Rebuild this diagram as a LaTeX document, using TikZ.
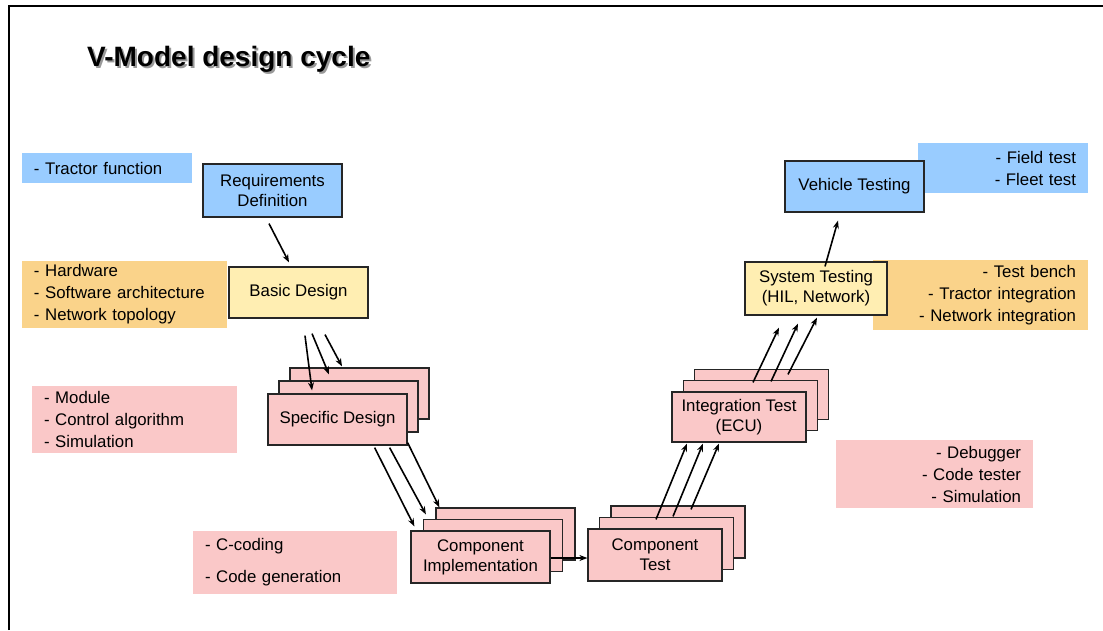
\documentclass[tikz,border=0pt]{standalone}
\usepackage{fontspec}
\setmainfont{Liberation Sans}
\usepackage{tikz}
\usetikzlibrary{arrows.meta}

\definecolor{sblue}{RGB}{153,204,255}
\definecolor{syellow}{RGB}{255,238,178}
\definecolor{spink}{RGB}{250,200,200}
\definecolor{norange}{RGB}{250,211,138}

\tikzset{
  stage/.style={draw=black!85, line width=1.2pt, minimum width=139pt, minimum height=51pt,
    align=center, inner sep=2pt, font=\fontsize{16.8}{20}\selectfont},
  note/.style={inner xsep=12pt, inner ysep=2pt, font=\fontsize{16.8}{22}\selectfont},
  flow/.style={-{Stealth[length=8pt,width=6pt]}, line width=1.6pt},
}

\begin{document}
\begin{tikzpicture}[x=1pt,y=-1pt]
    \useasboundingbox (0,0) rectangle (1103,630);
    \draw[line width=2pt] (9,630) -- (9,6) -- (1103,6);

    % title
    \node[font=\bfseries\fontsize{28}{32}\selectfont, text=black!40, anchor=base west, inner sep=0pt] (title-shadow) at (89,68) {V-Model design cycle};
    \node[font=\bfseries\fontsize{28}{32}\selectfont, anchor=base west, inner sep=0pt] (title) at (87,66) {V-Model design cycle};

    % notes
    \node[note, fill=sblue, text width=146pt, minimum height=30pt, align=left] (tractor) at (107,168) {- Tractor function};
    \node[note, fill=norange, text width=181pt, minimum height=67pt, align=left] (hw) at (124.5,294.5) {- Hardware\\- Software architecture\\- Network topology};
    \node[note, fill=spink, text width=181pt, minimum height=67pt, align=left] (module) at (134.5,419.5) {- Module\\- Control algorithm\\- Simulation};
    \node[note, fill=spink, text width=180pt, minimum height=63pt, align=left] (coding) at (295,562.5) {- C-coding\\[10pt]- Code generation};
    \node[note, fill=spink, text width=173pt, minimum height=68pt, align=right] (debug) at (934.5,474) {- Debugger\\- Code tester\\- Simulation};
    \node[note, fill=norange, text width=191pt, minimum height=70pt, align=right] (bench) at (980.5,295) {- Test bench\\- Tractor integration\\- Network integration};
    \node[note, fill=sblue, text width=146pt, minimum height=50pt, align=right] (field) at (1003,168) {- Field test\\- Fleet test};

    % left branch
    \node[stage, fill=sblue, minimum height=53pt] (req) at (272.5,190.5) {Requirements\\Definition};
    \node[stage, fill=syellow] (basic) at (298.5,292.5) {Basic Design};

    \node[stage, fill=spink] (sd3) at (359.5,393.5) {};
    \node[stage, fill=spink] (sd2) at (348.5,406.5) {};
    \node[stage, fill=spink] (sd1) at (337.5,419.5) {Specific Design};

    \node[stage, fill=spink, minimum height=52pt] (ci3) at (505.5,534) {};
    \node[stage, fill=spink, minimum height=52pt] (ci2) at (493,545.5) {};
    \node[stage, fill=spink, minimum height=52pt] (ci1) at (480.5,557) {Component\\Implementation};

    % right branch
    \node[stage, fill=spink, minimum width=134pt, minimum height=52pt] (ct3) at (678,532) {};
    \node[stage, fill=spink, minimum width=134pt, minimum height=52pt] (ct2) at (666.5,543.5) {};
    \node[stage, fill=spink, minimum width=134pt, minimum height=52pt] (ct1) at (655,555) {Component\\Test};

    \node[stage, fill=spink, minimum width=134pt, minimum height=50pt] (it3) at (761.5,394.5) {};
    \node[stage, fill=spink, minimum width=134pt, minimum height=50pt] (it2) at (750.5,405.5) {};
    \node[stage, fill=spink, minimum width=134pt, minimum height=50pt] (it1) at (739,417) {Integration Test\\(ECU)};

    \node[stage, fill=syellow, minimum width=142pt, minimum height=53pt] (sys) at (816,288.5) {System Testing\\(HIL, Network)};
    \node[stage, fill=sblue] (veh) at (854.5,186.5) {Vehicle Testing};

    % arrows
    \draw[flow] ([xshift=-3.5pt,yshift=-6pt]req.south) -- ([xshift=-9.5pt,yshift=4pt]basic.north);

    \draw[flow] ([xshift=6.5pt,yshift=-17pt]basic.south) -- ([xshift=-25.5pt,yshift=3pt]sd1.north);
    \draw[flow] ([xshift=13.5pt,yshift=-15pt]basic.south) -- ([xshift=-19.5pt,yshift=6pt]sd2.north);
    \draw[flow] ([xshift=26.5pt,yshift=-16pt]basic.south) -- ([xshift=-17.5pt,yshift=1pt]sd3.north);

    \draw[flow] ([xshift=-33pt,yshift=-2pt]sd1.south east) -- ([xshift=4pt,yshift=4pt]ci1.north west);
    \draw[flow] ([xshift=-18pt,yshift=-2pt]sd1.south east) -- ([xshift=3pt,yshift=4.5pt]ci2.north west);
    \draw[flow] ([xshift=0pt,yshift=3pt]sd1.south east) -- ([xshift=4pt,yshift=0pt]ci3.north west);

    \draw[flow] ([yshift=-1pt]ci1.east) -- ([yshift=-1pt]ci1.east -| ct1.west);

    \draw[flow] ([xshift=1pt,yshift=9pt]ct1.north) -- ([xshift=-52pt,yshift=-1pt]it1.south);
    \draw[flow] ([xshift=18pt,yshift=12pt]ct1.north) -- ([xshift=-36pt,yshift=-1pt]it1.south);
    \draw[flow] ([xshift=36pt,yshift=19pt]ct1.north) -- ([xshift=-20pt,yshift=-1pt]it1.south);

    \draw[flow] ([xshift=14pt,yshift=9pt]it1.north) -- ([xshift=-37pt,yshift=-12pt]sys.south);
    \draw[flow] ([xshift=32pt,yshift=10pt]it1.north) -- ([xshift=-18pt,yshift=-8pt]sys.south);
    \draw[flow] ([xshift=49pt,yshift=17pt]it1.north) -- ([xshift=1pt,yshift=-2pt]sys.south);

    \draw[flow] ([xshift=9pt,yshift=-5pt]sys.north) -- ([xshift=-16.5pt,yshift=-8pt]veh.south);
\end{tikzpicture}
\end{document}
